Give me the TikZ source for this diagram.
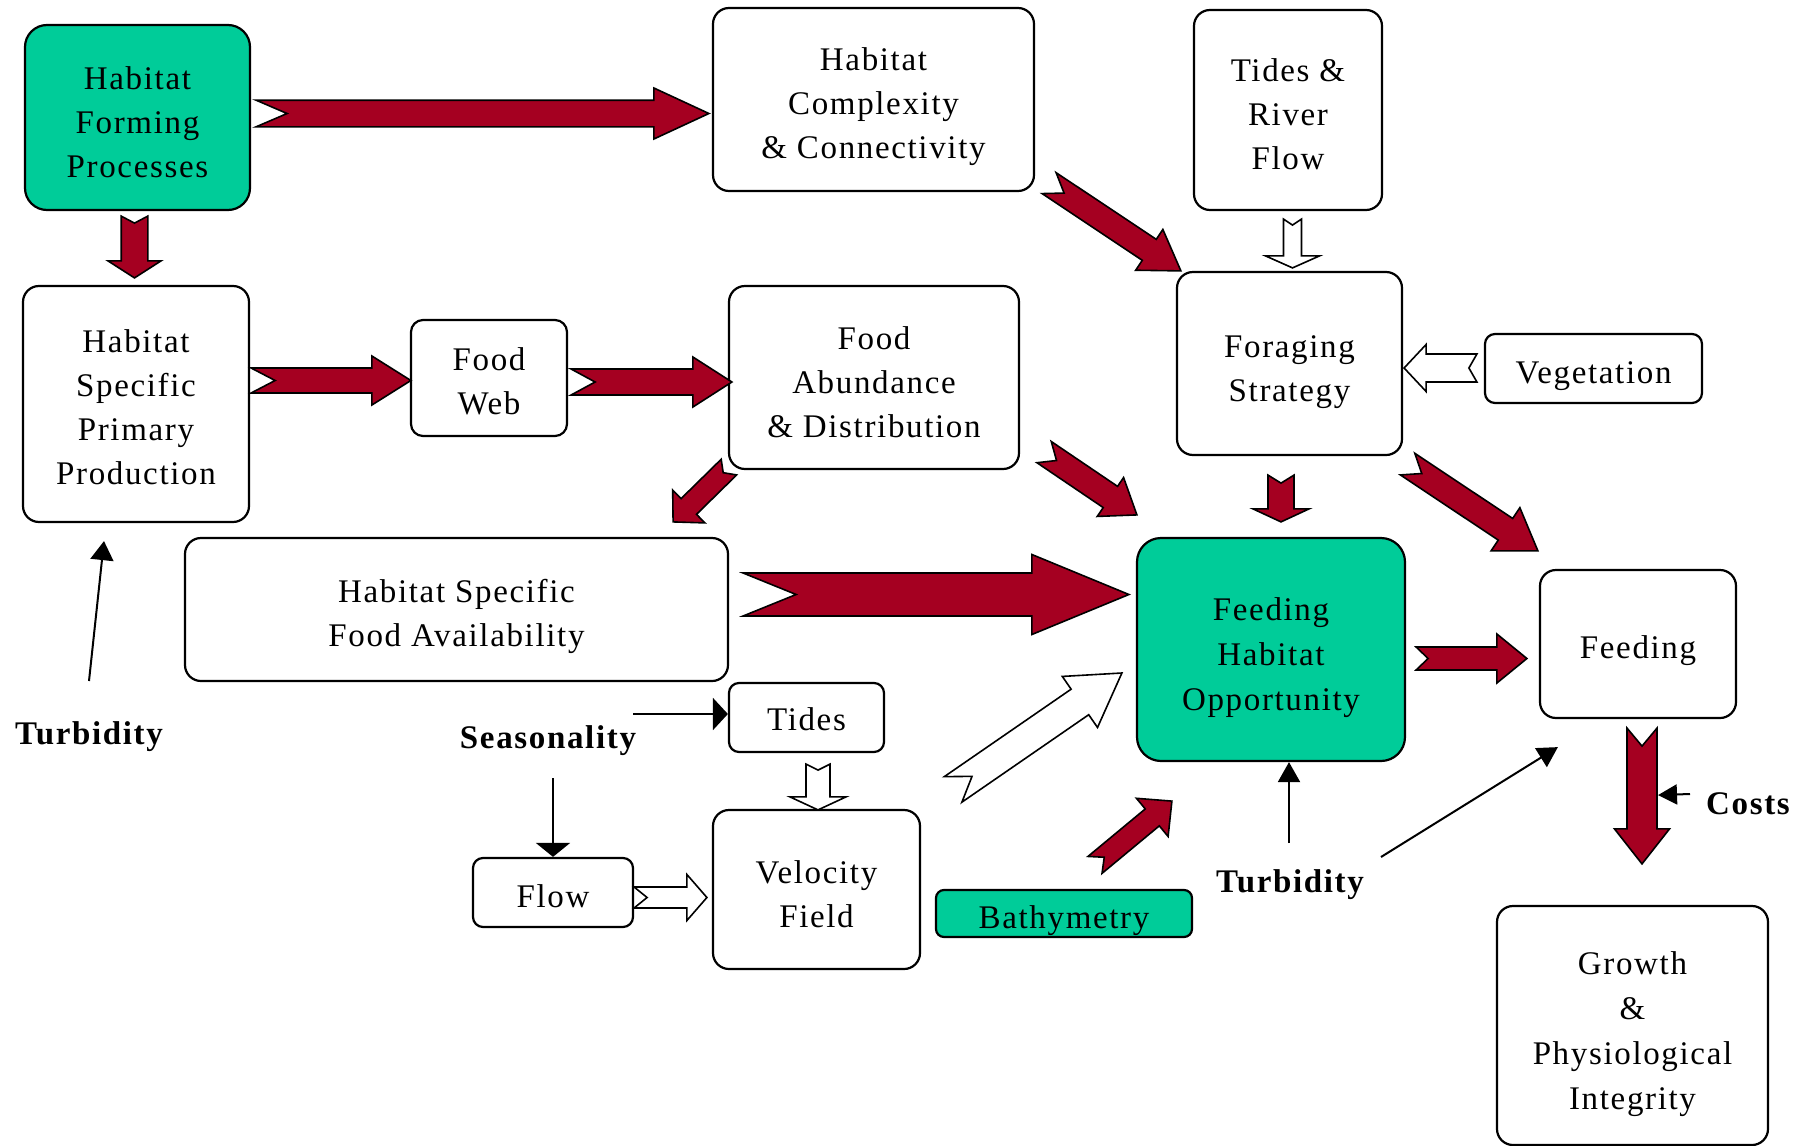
\documentclass[tikz,border=0pt]{standalone}
\usepackage{fontspec}
\setmainfont{Liberation Serif}[LetterSpace=5]
\usetikzlibrary{calc,arrows.meta}
\definecolor{boxgreen}{RGB}{0,204,153}
\definecolor{arrowred}{RGB}{165,0,33}
\newcommand\diagfont{\fontsize{16.5}{22}\selectfont}
\newcommand\diaglbl{\fontsize{16.5}{22}\selectfont\bfseries}
\newcommand\tstrut[1]{\rule{0pt}{#1}}
% block arrow: [style]{tail}{tip}{shaft half width}{head half width}{head length}{notch depth}
\newcommand\blockarrow[7][]{%
  \coordinate (bahead) at ($(#3)!#6!(#2)$);
  \draw[#1] ($(#2)!#4!90:(#3)$) -- ($(bahead)!#4!90:(#3)$) -- ($(bahead)!#5!90:(#3)$) -- (#3)
    -- ($(bahead)!#5!-90:(#3)$) -- ($(bahead)!#4!-90:(#3)$) -- ($(#2)!#4!-90:(#3)$)
    -- ($(#2)!#7!(#3)$) -- cycle;
}
\tikzset{
  tdown/.style={execute at begin node={\rule{0pt}{#1}}},
  box/.style={draw, line width=1.1pt, rounded corners=8pt, fill=white, align=center,
    inner sep=0pt, font=\diagfont},
  gbox/.style={box, fill=boxgreen, rounded corners=11pt},
  redarrow/.style={fill=arrowred, draw=black, line width=0.8pt, line join=miter},
  whitearrow/.style={fill=white, draw=black, line width=0.8pt, line join=miter},
  lbl/.style={font=\diaglbl, inner sep=0pt},
  ctrl/.style={draw, line width=1pt}
}
\begin{document}
\begin{tikzpicture}[x=0.5pt, y=-0.5pt]
\useasboundingbox[fill=white] (0,0) rectangle (1817,1146);

% boxes
\node[gbox, minimum width=112.5pt, minimum height=92.5pt] (hfp) at (137.5,117.5) {\tstrut{15.9pt}Habitat\\Forming\\Processes};
\node[box, minimum width=160.5pt, minimum height=91.5pt] (hcc) at (873.5,99.5) {\tstrut{18.2pt}Habitat\\Complexity\\\& Connectivity};
\node[box, minimum width=94pt, minimum height=100pt] (trf) at (1288,110) {\tstrut{15.3pt}Tides \&\\River\\Flow};
\node[box, minimum width=113pt, minimum height=118pt] (hspp) at (136,404) {\tstrut{14.8pt}Habitat\\Specific\\Primary\\Production};
\node[box, rounded corners=6pt, minimum width=78pt, minimum height=58pt] (fw) at (489,378) {\tstrut{14.8pt}Food\\Web};
\node[box, minimum width=145pt, minimum height=91.5pt] (fad) at (874,377.5) {\tstrut{15.9pt}Food\\Abundance\\\& Distribution};
\node[box, minimum width=112.5pt, minimum height=91.5pt] (fs) at (1289.5,363.5) {\tstrut{19.4pt}Foraging\\Strategy};
\node[box, tdown=19pt, rounded corners=5pt, minimum width=108.5pt, minimum height=34.5pt] (veg) at (1593.5,368.5) {Vegetation};
\node[box, minimum width=271.5pt, minimum height=71.5pt] (hsfa) at (456.5,609.5) {\tstrut{18.2pt}Habitat Specific\\Food Availability};
\node[gbox, rounded corners=12pt, minimum width=134pt, minimum height=111.5pt] (fho) at (1271,649.5) {\tstrut{19.5pt}Feeding\\[0.6pt]Habitat\\[0.6pt]Opportunity};
\node[box, tdown=18.2pt, minimum width=98pt, minimum height=74pt] (feed) at (1638,644) {Feeding};
\node[box, tdown=13.5pt, rounded corners=5pt, minimum width=77.5pt, minimum height=34.5pt] (tides) at (806.5,717.5) {Tides};
\node[box, tdown=15.2pt, rounded corners=5pt, minimum width=80pt, minimum height=34.5pt] (flow) at (553,892.5) {Flow};
\node[box, minimum width=103.5pt, minimum height=79.5pt] (vf) at (816.5,889.5) {\tstrut{15.9pt}Velocity\\Field};
\node[gbox, tdown=18.2pt, rounded corners=4pt, minimum width=128pt, minimum height=23.5pt] (bath) at (1064,913.5) {Bathymetry};
\node[box, minimum width=135.5pt, minimum height=119.5pt] (grow) at (1632.5,1025.5) {\tstrut{20.1pt}Growth\\[0.6pt]\&\\[0.6pt]Physiological\\[0.6pt]Integrity};

% labels
\node[lbl] (turbL) at (89,737) {Turbidity};
\node[lbl] (season) at (548,741) {Seasonality};
\node[lbl] (turbM) at (1290,885) {Turbidity};
\node[lbl] (costs) at (1748,804) {Costs};

% block arrow end points
\coordinate (a1s) at ($(hfp.east)+(5,-4)$);
\coordinate (a1e) at ($(hcc.west)+(-3,14)$);
\coordinate (a2s) at ($(hfp.south)+(-3,5)$);
\coordinate (a2e) at ($(hspp.north)+(-1.5,-7)$);
\coordinate (a3s) at ($(hspp.east)+(1,-23.5)$);
\coordinate (a3e) at ($(fw.west)+(1,2.5)$);
\coordinate (a4s) at ($(fw.east)+(3,4)$);
\coordinate (a4e) at ($(fad.west)+(4,4.5)$);
\coordinate (a5s) at ($(fad.south west)+(1,-3)$);
\coordinate (a5e) at ($(hsfa.north east)+(-56,-15)$);
\coordinate (a6s) at ($(hcc.south east)+(14,-9)$);
\coordinate (a6e) at ($(fs.north west)+(5,0)$);
\coordinate (a7s) at ($(fad.south east)+(24,-18)$);
\coordinate (a7e) at ($(fho.north west)+(1,-22)$);
\coordinate (a8s) at ($(fs.south)+(-8.5,19)$);
\coordinate (a8e) at ($(fho.north)+(10,-15)$);
\coordinate (a9s) at ($(fs.south east)+(4.5,8)$);
\coordinate (a9e) at ($(feed.north west)+(-1,-18)$);
\coordinate (a10s) at ($(hsfa.east)+(14,-15)$);
\coordinate (a10e) at ($(fho.west)+(-7,-55)$);
\coordinate (w11s) at ($(vf.north east)+(32,-19.5)$);
\coordinate (w11e) at ($(fho.west)+(-14,23.5)$);
\coordinate (a12s) at ($(bath.north)+(31,-24)$);
\coordinate (a12e) at ($(fho.south west)+(36,39)$);
\coordinate (a13s) at ($(fho.east)+(10,9)$);
\coordinate (a13e) at ($(feed.west)+(-12,14.5)$);
\coordinate (a14s) at ($(feed.south)+(4,9)$);
\coordinate (a14e) at ($(grow.north)+(9.5,-41)$);
\coordinate (w1s) at ($(trf.south)+(4.5,8)$);
\coordinate (w1e) at ($(fs.north)+(3,-3)$);
\coordinate (w2s) at ($(veg.west)+(-7,-0.5)$);
\coordinate (w2e) at ($(fs.east)+(1,4.5)$);
\coordinate (w3s) at ($(tides.south)+(11.5,11)$);
\coordinate (w3e) at ($(vf.north)+(1.5,1)$);
\coordinate (w4s) at ($(flow.east)+(0,5)$);
\coordinate (w4e) at ($(vf.west)+(-5,8)$);

% red block arrows
\blockarrow[redarrow]{a1s}{a1e}{6.65pt}{12.75pt}{27.5pt}{15.5pt}
\blockarrow[redarrow]{a2s}{a2e}{6.65pt}{13.25pt}{8.5pt}{3.5pt}
\blockarrow[redarrow]{a3s}{a3e}{6.25pt}{12.25pt}{19.5pt}{12pt}
\blockarrow[redarrow]{a4s}{a4e}{6.5pt}{12.5pt}{19.5pt}{12pt}
\blockarrow[redarrow]{a5s}{a5e}{5.5pt}{11.5pt}{11pt}{4pt}
\blockarrow[redarrow]{a6s}{a6e}{6.3pt}{12.25pt}{19pt}{9pt}
\blockarrow[redarrow]{a7s}{a7e}{6.4pt}{11.75pt}{16pt}{7.5pt}
\blockarrow[redarrow]{a8s}{a8e}{6.5pt}{14pt}{6.5pt}{4pt}
\blockarrow[redarrow]{a9s}{a9e}{6.5pt}{13pt}{19.5pt}{8.5pt}
\blockarrow[redarrow]{a10s}{a10e}{10.75pt}{20pt}{48.5pt}{26.5pt}
\blockarrow[redarrow]{a12s}{a12e}{5.5pt}{12.4pt}{12.75pt}{6pt}
\blockarrow[redarrow]{a13s}{a13e}{5.75pt}{12.25pt}{15pt}{6pt}
\blockarrow[redarrow]{a14s}{a14e}{7.5pt}{13.75pt}{17.5pt}{9pt}

% white block arrows
\blockarrow[whitearrow]{w11s}{w11e}{7.75pt}{15.5pt}{25.5pt}{11.5pt}
\blockarrow[whitearrow]{w1s}{w1e}{4.5pt}{13.5pt}{6pt}{3pt}
\blockarrow[whitearrow]{w2s}{w2e}{7pt}{11.75pt}{11pt}{4pt}
\blockarrow[whitearrow]{w3s}{w3e}{6pt}{14pt}{6.5pt}{3pt}
\blockarrow[whitearrow]{w4s}{w4e}{5.25pt}{11.5pt}{10pt}{6.5pt}

% thin control arrows
\draw[ctrl, -{Triangle[length=9.5pt,width=11.5pt]}] ($(turbL)+(0,-56)$) -- ($(hspp.south)+(-32,18)$);
\draw[ctrl, -{Triangle[length=7.5pt,width=16pt]}] ($(season)+(85,-27)$) -- ($(tides.west)+(0,-3.5)$);
\draw[ctrl, -{Triangle[length=7pt,width=17pt]}] ($(season)+(5,37)$) -- (flow.north);
\draw[ctrl, -{Triangle[length=10pt,width=11pt]}] ($(turbM)+(-1,-42)$) -- ($(fho.south)+(18,0)$);
\draw[ctrl, -{Triangle[length=10pt,width=11pt]}] ($(turbM)+(91,-28)$) -- ($(feed.south west)+(19,28)$);
\draw[ctrl, -{Triangle[length=9.5pt,width=10pt]}] ($(costs)+(-58,-10)$) -- ($(feed.south)+(20,76)$);
\end{tikzpicture}
\end{document}
